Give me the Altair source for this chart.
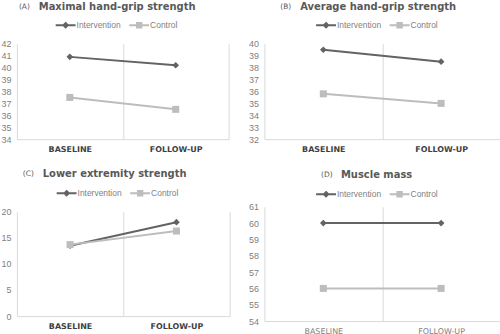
import altair as alt
import pandas as pd

categories = ["BASELINE", "FOLLOW-UP"]
series = ["Intervention", "Control"]
colors = ["#636363", "#bdbdbd"]

a_int = [40.9, 40.2]
a_ctl = [37.5, 36.5]
b_int = [39.5, 38.5]
b_ctl = [35.8, 35.0]
c_int = [13.5, 18.0]
c_ctl = [13.7, 16.3]
d_int = [60.0, 60.0]
d_ctl = [56.0, 56.0]

a_ticks = [34, 35, 36, 37, 38, 39, 40, 41, 42]
b_ticks = [32, 33, 34, 35, 36, 37, 38, 39, 40]
c_ticks = [0, 5, 10, 15, 20]
d_ticks = [54, 55, 56, 57, 58, 59, 60, 61]

titles = ["Maximal hand-grip strength", "Average hand-grip strength",
          "Lower extremity strength", "Muscle mass"]
letters = ["(A)", "(B)", "(C)", "(D)"]

legend_paths = [
    "M-1,0H1M0,-0.22L0.22,0L0,0.22L-0.22,0ZM0,-0.08L0.08,0L0,0.08L-0.08,0Z",
    "M-1,0H1M-0.22,-0.22H0.22V0.22H-0.22ZM-0.08,-0.08H0.08V0.08H-0.08Z",
]


def panel(idx, ints, ctls, ticks, w, h, title_x, title_y, leg_x, leg_y,
          label_bold=True):
    df = pd.DataFrame({
        "cat": categories * 2,
        "series": [series[0]] * 2 + [series[1]] * 2,
        "value": list(ints) + list(ctls),
    })
    xenc = alt.X(
        "cat:N", sort=categories,
        scale=alt.Scale(type="band", paddingInner=0, paddingOuter=0),
        axis=alt.Axis(title=None, grid=True, tickBand="extent", gridColor="#d9d9d9",
                      domainColor="#d9d9d9", ticks=False, labelAngle=0,
                      labelFont="DejaVu Sans",
                      labelFontWeight="bold" if label_bold else "normal",
                      labelFontSize=8,
                      labelColor="#404040" if label_bold else "#7f7f7f",
                      labelPadding=6),
    )
    yenc = alt.Y(
        "value:Q",
        scale=alt.Scale(domain=[ticks[0], ticks[-1]], nice=False, zero=False),
        axis=alt.Axis(title=None, grid=False, domain=False, ticks=False, values=ticks,
                      labelFont="Liberation Sans", labelFontSize=9,
                      labelColor="#808080", labelPadding=6),
    )
    base = alt.Chart(df)
    layers = []
    shapes = ["diamond", "square"]
    sizes = [45, 50]
    for s, c, shp, sz in zip(series, colors, shapes, sizes):
        sub = base.transform_filter(alt.datum.series == s)
        layers.append(sub.mark_line(color=c, strokeWidth=2).encode(x=xenc, y=yenc))
        layers.append(sub.mark_point(shape=shp, filled=True, size=sz, color=c,
                                     opacity=1).encode(x=xenc, y=yenc))
    leg = alt.Legend(title=None, orient="none", legendX=leg_x, legendY=leg_y,
                     direction="horizontal", symbolSize=400, symbolStrokeWidth=2,
                     labelFont="Liberation Sans", labelFontSize=8.5,
                     labelColor="#7f7f7f", labelOffset=0, columnPadding=4,
                     padding=0, symbolOpacity=1)
    legend_layer = base.transform_filter("false").mark_point(
        filled=False, strokeWidth=2, opacity=1
    ).encode(
        color=alt.Color("series:N", scale=alt.Scale(domain=series, range=colors), legend=leg),
        shape=alt.Shape("series:N", scale=alt.Scale(domain=series, range=legend_paths), legend=leg),
    )
    layers.append(legend_layer)
    tdf = pd.DataFrame({"t": [titles[idx]], "l": [letters[idx]]})
    tbase = alt.Chart(tdf)
    layers.append(tbase.mark_text(align="left", baseline="middle", font="DejaVu Sans",
                                  fontSize=7.5, color="#595959").encode(
        x=alt.value(title_x - 20), y=alt.value(title_y + 0.5), text="l:N"))
    layers.append(tbase.mark_text(align="left", baseline="middle", font="DejaVu Sans",
                                  fontWeight="bold", fontSize=10, color="#595959").encode(
        x=alt.value(title_x), y=alt.value(title_y), text="t:N"))
    return alt.layer(*layers).properties(width=w, height=h)


pa = panel(0, a_int, a_ctl, a_ticks, 213, 96, 22, -37, 38, -30)
pb = panel(1, b_int, b_ctl, b_ticks, 237, 96, 36, -37, 51, -30)
pc = panel(2, c_int, c_ctl, c_ticks, 214, 105, 26, -38, 39, -30)
pd_ = panel(3, d_int, d_ctl, d_ticks, 237, 115, 77, -32, 51, -24, label_bold=False)

res = dict(color="independent", shape="independent")
col1 = alt.vconcat(pa, pc, spacing=16).resolve_scale(**res).resolve_legend(**res)
col2 = alt.vconcat(pb, pd_, spacing=17).resolve_scale(**res).resolve_legend(**res)
chart = alt.hconcat(col1, col2, spacing=18).resolve_scale(**res).resolve_legend(**res).properties(
    padding={"left": 0, "top": 1, "right": 0, "bottom": 0},
    background="white",
).configure_view(stroke=None)

chart.save("out.html", embed_options={"renderer": "svg", "actions": False})
